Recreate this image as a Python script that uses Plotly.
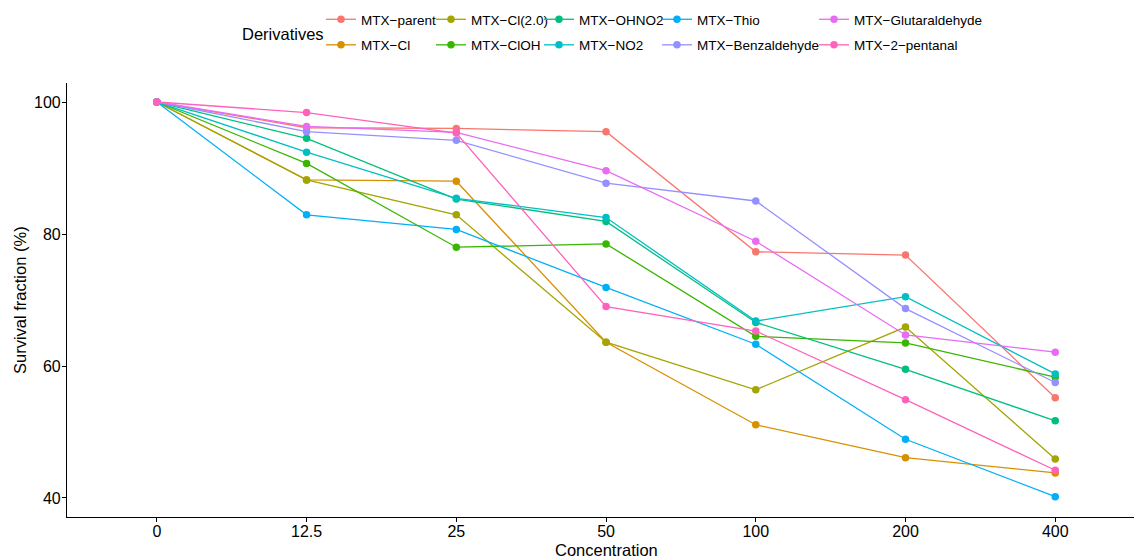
import plotly.graph_objects as go

concentrations = ["0", "12.5", "25", "50", "100", "200", "400"]

series_names = [
    "MTX−parent", "MTX−Cl", "MTX−Cl(2.0)", "MTX−ClOH", "MTX−OHNO2",
    "MTX−NO2", "MTX−Thio", "MTX−Benzaldehyde", "MTX−Glutaraldehyde", "MTX−2−pentanal",
]

mtx_parent = [100, 96.1, 96.0, 95.5, 77.3, 76.8, 55.2]
mtx_cl = [100, 88.2, 88.0, 63.6, 51.1, 46.1, 43.8]
mtx_cl20 = [100, 88.2, 82.9, 63.6, 56.4, 65.9, 45.9]
mtx_cloh = [100, 90.7, 78.0, 78.5, 64.5, 63.5, 58.3]
mtx_ohno2 = [100, 94.5, 85.3, 81.9, 66.6, 59.5, 51.7]
mtx_no2 = [100, 92.4, 85.4, 82.5, 66.8, 70.5, 58.8]
mtx_thio = [100, 82.9, 80.7, 71.9, 63.3, 48.9, 40.2]
mtx_benz = [100, 95.5, 94.2, 87.7, 85.0, 68.7, 57.5]
mtx_glut = [100, 96.3, 95.4, 89.6, 78.9, 64.7, 62.1]
mtx_pent = [100, 98.4, 95.3, 69.0, 65.3, 54.9, 44.2]

series_values = [mtx_parent, mtx_cl, mtx_cl20, mtx_cloh, mtx_ohno2,
                 mtx_no2, mtx_thio, mtx_benz, mtx_glut, mtx_pent]

colors = ["#F8766D", "#D89000", "#A3A500", "#39B600", "#00BF7D",
          "#00BFC4", "#00B0F6", "#9590FF", "#E76BF3", "#FF62BC"]

y_ticks = [40, 60, 80, 100]

W, H = 1134, 558
L, R, T, B = 67, 0, 83, 41
PW, PH = W - L - R, H - T - B
FONT = "Liberation Sans, Arial, sans-serif"

fig = go.Figure()
legend_ids = ["legend", "legend2", "legend3", "legend4", "legend5"]
for i, (name, vals, col) in enumerate(zip(series_names, series_values, colors)):
    fig.add_trace(go.Scatter(
        x=concentrations, y=vals, name=name, mode="lines+markers",
        line=dict(color=col, width=1.3),
        marker=dict(color=col, size=7.5),
        legend=legend_ids[i // 2],
        legendgroup=name,
    ))

col_x = [321, 431, 539, 657, 814]
legend_font = dict(family=FONT, size=13.5, color="black")
legend_layout = {}
for lid, cx in zip(legend_ids, col_x):
    legend_layout[lid] = dict(
        xref="container", yref="container",
        x=cx / W, y=1 - 4 / H, xanchor="left", yanchor="top",
        orientation="v", font=legend_font, bgcolor="rgba(0,0,0,0)",
        borderwidth=0, tracegroupgap=5, itemclick=False,
    )

title_font = dict(family=FONT, size=16.5, color="black")

fig.update_layout(
    width=W, height=H,
    margin=dict(l=L, r=R, t=T, b=B, autoexpand=False),
    paper_bgcolor="white", plot_bgcolor="white",
    font=dict(family=FONT, size=16, color="black"),
    showlegend=True,
    **legend_layout,
    xaxis=dict(
        type="category", categoryorder="array", categoryarray=concentrations,
        range=[-0.6, 6.526], showgrid=False, zeroline=False,
        showline=True, linecolor="black", linewidth=1.2,
        ticks="outside", ticklen=4, tickwidth=1.1, tickcolor="black",
        tickfont=dict(family=FONT, size=16, color="black"),
        ticklabelstandoff=-4,
        automargin=False,
    ),
    yaxis=dict(
        range=[37.12, 102.88], tickvals=y_ticks, ticktext=[str(v) for v in y_ticks],
        showgrid=False, zeroline=False,
        showline=True, linecolor="black", linewidth=1.2,
        ticks="outside", ticklen=4, tickwidth=1.1, tickcolor="black",
        tickfont=dict(family=FONT, size=16, color="black"),
        ticklabelstandoff=-2,
        automargin=False,
    ),
    annotations=[
        dict(text="Derivatives", xref="paper", yref="paper",
             x=(240 - L) / PW, y=(T + PH - 34) / PH,
             xanchor="left", yanchor="middle", showarrow=False, font=title_font),
        dict(text="Concentration", xref="paper", yref="paper",
             x=(606 - L) / PW, y=(T + PH - 550) / PH,
             xanchor="center", yanchor="middle", showarrow=False, font=title_font),
        dict(text="Survival fraction (%)", xref="paper", yref="paper",
             x=(20 - L) / PW, y=(T + PH - 300) / PH, textangle=-90,
             xanchor="center", yanchor="middle", showarrow=False, font=title_font),
    ],
)

fig.write_html("out.html")
